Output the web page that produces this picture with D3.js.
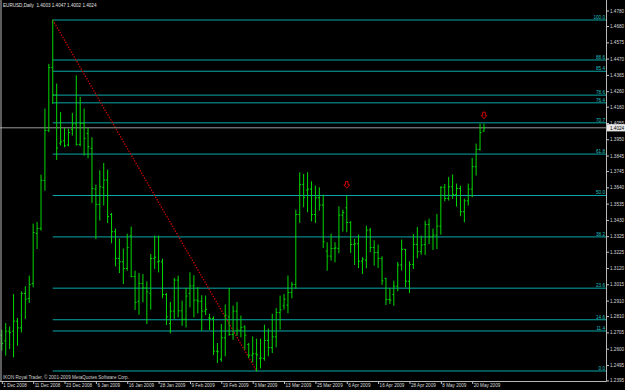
<!DOCTYPE html>
<html>
<head>
<meta charset="utf-8">
<script src="https://cdn.jsdelivr.net/npm/d3@7"></script>
<style>
html, body { margin: 0; padding: 0; background: #000; }
svg { display: block; }
</style>
</head>
<body>
<div id="chart"></div>
<script>
// daily bars, 1 Dec 2008 .. 25 May 2009
const dates = [
	"1 Dec 2008","2 Dec 2008","3 Dec 2008","4 Dec 2008","5 Dec 2008","8 Dec 2008","9 Dec 2008","10 Dec 2008","11 Dec 2008","12 Dec 2008",
	"15 Dec 2008","16 Dec 2008","17 Dec 2008","18 Dec 2008","19 Dec 2008","22 Dec 2008","23 Dec 2008","24 Dec 2008","26 Dec 2008","29 Dec 2008",
	"30 Dec 2008","31 Dec 2008","2 Jan 2009","5 Jan 2009","6 Jan 2009","7 Jan 2009","8 Jan 2009","9 Jan 2009","12 Jan 2009","13 Jan 2009",
	"14 Jan 2009","15 Jan 2009","16 Jan 2009","19 Jan 2009","20 Jan 2009","21 Jan 2009","22 Jan 2009","23 Jan 2009","26 Jan 2009","27 Jan 2009",
	"28 Jan 2009","29 Jan 2009","30 Jan 2009","2 Feb 2009","3 Feb 2009","4 Feb 2009","5 Feb 2009","6 Feb 2009","9 Feb 2009","10 Feb 2009",
	"11 Feb 2009","12 Feb 2009","13 Feb 2009","16 Feb 2009","17 Feb 2009","18 Feb 2009","19 Feb 2009","20 Feb 2009","23 Feb 2009","24 Feb 2009",
	"25 Feb 2009","26 Feb 2009","27 Feb 2009","2 Mar 2009","3 Mar 2009","4 Mar 2009","5 Mar 2009","6 Mar 2009","9 Mar 2009","10 Mar 2009",
	"11 Mar 2009","12 Mar 2009","13 Mar 2009","16 Mar 2009","17 Mar 2009","18 Mar 2009","19 Mar 2009","20 Mar 2009","23 Mar 2009","24 Mar 2009",
	"25 Mar 2009","26 Mar 2009","27 Mar 2009","30 Mar 2009","31 Mar 2009","1 Apr 2009","2 Apr 2009","3 Apr 2009","6 Apr 2009","7 Apr 2009",
	"8 Apr 2009","9 Apr 2009","10 Apr 2009","13 Apr 2009","14 Apr 2009","15 Apr 2009","16 Apr 2009","17 Apr 2009","20 Apr 2009","21 Apr 2009",
	"22 Apr 2009","23 Apr 2009","24 Apr 2009","27 Apr 2009","28 Apr 2009","29 Apr 2009","30 Apr 2009","1 May 2009","4 May 2009","5 May 2009",
	"6 May 2009","7 May 2009","8 May 2009","11 May 2009","12 May 2009","13 May 2009","14 May 2009","15 May 2009","18 May 2009","19 May 2009",
	"20 May 2009","21 May 2009","22 May 2009","25 May 2009"
];

const open = [
	1.2687,1.2650,1.2713,1.2713,1.2777,1.2734,1.2956,1.2923,1.3020,1.3343,
	1.3375,1.3685,1.4007,1.4413,1.4235,1.3925,1.3940,1.3913,1.4014,1.4050,
	1.3917,1.4052,1.3988,1.3891,1.3629,1.3530,1.3640,1.3687,1.3465,1.3354,
	1.3182,1.3160,1.3117,1.3328,1.3065,1.2906,1.3020,1.2992,1.2956,1.3182,
	1.3160,1.3160,1.2949,1.2762,1.2842,1.3042,1.2844,1.2790,1.2956,1.3005,
	1.2913,1.2906,1.2842,1.2799,1.2795,1.2584,1.2532,1.2670,1.2805,1.2691,
	1.2842,1.2719,1.2741,1.2627,1.2558,1.2567,1.2537,1.2537,1.2653,1.2607,
	1.2676,1.2833,1.2876,1.2881,1.2962,1.3014,1.3465,1.3659,1.3622,1.3629,
	1.3465,1.3573,1.3526,1.3229,1.3197,1.3246,1.3246,1.3461,1.3508,1.3414,
	1.3272,1.3276,1.3164,1.3171,1.3364,1.3252,1.3220,1.3182,1.3053,1.2917,
	1.2949,1.3003,1.3139,1.3240,1.3035,1.3143,1.3272,1.3225,1.3272,1.3401,
	1.3321,1.3332,1.3390,1.3640,1.3569,1.3644,1.3594,1.3633,1.3483,1.3553,
	1.3629,1.3773,1.3885,1.4003
];
const high = [
	1.2719,1.2762,1.2740,1.2948,1.2795,1.2966,1.2999,1.3068,1.3403,1.3414,
	1.3719,1.4145,1.4433,1.4719,1.4306,1.4123,1.4020,1.4016,1.4117,1.4359,
	1.4220,1.4145,1.4020,1.3960,1.3654,1.3747,1.3794,1.3751,1.3472,1.3371,
	1.3306,1.3242,1.3338,1.3384,1.3100,1.3085,1.3078,1.3031,1.3207,1.3326,
	1.3326,1.3177,1.2956,1.2898,1.3053,1.3068,1.2906,1.2988,1.3089,1.3070,
	1.2994,1.2941,1.2939,1.2822,1.2805,1.2633,1.2756,1.2881,1.2988,1.2874,
	1.2898,1.2810,1.2747,1.2633,1.2676,1.2661,1.2661,1.2751,1.2726,1.2822,
	1.2859,1.2939,1.2949,1.3068,1.3027,1.3493,1.3734,1.3723,1.3734,1.3676,
	1.3648,1.3637,1.3590,1.3283,1.3338,1.3283,1.3515,1.3493,1.3584,1.3418,
	1.3306,1.3332,1.3186,1.3390,1.3375,1.3295,1.3268,1.3192,1.3053,1.2988,
	1.3035,1.3156,1.3300,1.3240,1.3160,1.3336,1.3381,1.3326,1.3422,1.3435,
	1.3371,1.3465,1.3644,1.3659,1.3704,1.3719,1.3661,1.3648,1.3564,1.3661,
	1.3827,1.3919,1.4048,1.4047
];
const low = [
	1.2590,1.2558,1.2601,1.2547,1.2622,1.2708,1.2795,1.2898,1.2999,1.3246,
	1.3364,1.3622,1.3999,1.4181,1.3820,1.3913,1.3902,1.3908,1.3977,1.3913,
	1.3908,1.3848,1.3831,1.3543,1.3310,1.3429,1.3526,1.3412,1.3283,1.3134,
	1.3091,1.3020,1.3106,1.3063,1.2853,1.2822,1.2902,1.2762,1.2855,1.3117,
	1.3095,1.2928,1.2756,1.2702,1.2795,1.2805,1.2751,1.2740,1.2870,1.2805,
	1.2831,1.2719,1.2820,1.2724,1.2562,1.2511,1.2519,1.2554,1.2687,1.2661,
	1.2687,1.2676,1.2597,1.2541,1.2515,1.2456,1.2476,1.2526,1.2554,1.2575,
	1.2612,1.2726,1.2855,1.2831,1.2928,1.2988,1.3414,1.3515,1.3483,1.3424,
	1.3414,1.3493,1.3252,1.3106,1.3171,1.3160,1.3218,1.3358,1.3354,1.3220,
	1.3143,1.3123,1.3085,1.3121,1.3225,1.3139,1.3123,1.3014,1.2885,1.2891,
	1.2880,1.2973,1.3106,1.2999,1.2962,1.3117,1.3186,1.3209,1.3207,1.3278,
	1.3240,1.3246,1.3338,1.3553,1.3558,1.3569,1.3519,1.3457,1.3418,1.3526,
	1.3579,1.3719,1.3880,1.4002
];
const close = [
	1.2633,1.2713,1.2705,1.2777,1.2734,1.2956,1.2919,1.3014,1.3349,1.3375,
	1.3685,1.4007,1.4413,1.4235,1.3894,1.3934,1.3908,1.3994,1.4048,1.3917,
	1.4052,1.3956,1.3902,1.3633,1.3530,1.3644,1.3687,1.3452,1.3354,1.3182,
	1.3160,1.3117,1.3252,1.3065,1.2898,1.3020,1.2992,1.2966,1.3182,1.3190,
	1.3165,1.2949,1.2805,1.2842,1.3042,1.2844,1.2790,1.2939,1.3005,1.2913,
	1.2906,1.2842,1.2853,1.2795,1.2584,1.2580,1.2670,1.2816,1.2691,1.2842,
	1.2719,1.2736,1.2687,1.2558,1.2567,1.2560,1.2540,1.2653,1.2607,1.2676,
	1.2833,1.2850,1.2919,1.2962,1.3014,1.3465,1.3659,1.3575,1.3629,1.3465,
	1.3573,1.3526,1.3289,1.3197,1.3246,1.3250,1.3461,1.3478,1.3414,1.3272,
	1.3276,1.3164,1.3177,1.3364,1.3252,1.3220,1.3182,1.3037,1.2917,1.2913,
	1.3003,1.3139,1.3240,1.3035,1.3143,1.3272,1.3225,1.3268,1.3401,1.3321,
	1.3332,1.3390,1.3640,1.3569,1.3644,1.3594,1.3633,1.3483,1.3553,1.3629,
	1.3773,1.3885,1.3994,1.4024
];

const priceTicks = [1.4780,1.4680,1.4575,1.4470,1.4365,1.4260,1.4160,1.4055,1.3950,1.3845,1.3745,1.3640,
	1.3535,1.3430,1.3325,1.3225,1.3120,1.3015,1.2910,1.2810,1.2705,1.2600,1.2495,1.2395];
const dateTicks = ["1 Dec 2008","11 Dec 2008","23 Dec 2008","6 Jan 2009","16 Jan 2009","28 Jan 2009","9 Feb 2009",
	"19 Feb 2009","3 Mar 2009","13 Mar 2009","25 Mar 2009","6 Apr 2009","16 Apr 2009","28 Apr 2009","8 May 2009","20 May 2009"];

// fibonacci retracement, 18 Dec high -> 4 Mar low
const fibLevels = [0.0, 11.4, 14.6, 23.6, 38.2, 50.0, 61.8, 70.7, 76.4, 78.6, 85.4, 88.6, 100.0];
const fibHigh = 1.4719, fibLow = 1.2456;
const fibFrom = "18 Dec 2008", fibTo = "4 Mar 2009";

const arrowDates = ["6 Apr 2009", "25 May 2009"];
const arrowPrices = [1.3655, 1.4103];

const lastPrice = 1.4024;
const title = "EURUSD,Daily  1.4003 1.4047 1.4002 1.4024";
const copyright = "IKON Royal Trader, \u00a9 2001-2009 MetaQuotes Software Corp.";


const width = 625, height = 390;
const plotRight = 606, plotBottom = 381;
const font = '"Liberation Sans", Arial, sans-serif';

let svg = d3.select('#chart').append('svg')
	.attr('width', width)
	.attr('height', height)
	.style('font-family', font);

svg.append('rect')
	.attr('width', width)
	.attr('height', height)
	.attr('fill', '#000');

//Scales
let x = d3.scaleLinear()
	.domain([0, dates.length - 1])
	.range([1.8, 1.8 + 3.92 * (dates.length - 1)]);
let y = d3.scaleLinear()
	.domain([fibLow, fibHigh])
	.range([371, 20]);

//Fibonacci levels
let fibGroup = svg.append('g').attr('class', 'fib');
let fx0 = x(dates.indexOf(fibFrom));
fibGroup.selectAll('line')
	.data(fibLevels)
	.enter().append('line')
	.attr('x1', fx0)
	.attr('x2', plotRight)
	.attr('y1', d => y(fibLow + (fibHigh - fibLow) * d / 100))
	.attr('y2', d => y(fibLow + (fibHigh - fibLow) * d / 100))
	.attr('stroke', '#0aa8a8')
	.attr('stroke-width', 1);
fibGroup.selectAll('text')
	.data(fibLevels)
	.enter().append('text')
	.attr('x', plotRight - 1)
	.attr('y', d => y(fibLow + (fibHigh - fibLow) * d / 100) - 1.2)
	.attr('text-anchor', 'end')
	.attr('font-size', 4.6)
	.attr('fill', '#20c0c0')
	.text(d => d.toFixed(1));

//Trend line of the retracement
svg.append('line')
	.attr('x1', fx0)
	.attr('y1', y(fibHigh))
	.attr('x2', x(dates.indexOf(fibTo)))
	.attr('y2', y(fibLow))
	.attr('stroke', '#c80000')
	.attr('stroke-width', 1.3)
	.attr('stroke-dasharray', '1.4 1.4');

//Current price line
svg.append('line')
	.attr('x1', 0)
	.attr('x2', plotRight)
	.attr('y1', y(lastPrice))
	.attr('y2', y(lastPrice))
	.attr('stroke', '#9a9a9a')
	.attr('stroke-width', 1);

//Bars
let barGroup = svg.append('g').attr('class', 'bars')
	.attr('stroke', '#00d800')
	.attr('stroke-width', 1);
let bars = barGroup.selectAll('g')
	.data(d3.range(dates.length))
	.enter().append('g');
bars.append('line')
	.attr('x1', i => x(i)).attr('x2', i => x(i))
	.attr('y1', i => y(high[i]) - 0.5).attr('y2', i => y(low[i]) + 0.5);
bars.append('line')
	.attr('x1', i => x(i) - 1.4).attr('x2', i => x(i))
	.attr('y1', i => y(open[i])).attr('y2', i => y(open[i]));
bars.append('line')
	.attr('x1', i => x(i)).attr('x2', i => x(i) + 1.4)
	.attr('y1', i => y(close[i])).attr('y2', i => y(close[i]));

//Arrows (hollow, pointing down)
svg.append('g').selectAll('path')
	.data(arrowDates)
	.enter().append('path')
	.attr('transform', (d, k) => `translate(${x(dates.indexOf(d))},${y(arrowPrices[k])})`)
	.attr('d', 'M-1.3,-3.4 H1.3 V-0.2 H2.9 L0,3.2 L-2.9,-0.2 H-1.3 Z')
	.attr('fill', 'none')
	.attr('stroke', '#d00000')
	.attr('stroke-width', 1);

//Frame
let frame = svg.append('g').attr('stroke', '#b8b8b8').attr('stroke-width', 1);
frame.append('line').attr('x1', 1).attr('x2', 1).attr('y1', 0).attr('y2', plotBottom);
frame.append('line').attr('x1', plotRight + 0.5).attr('x2', plotRight + 0.5).attr('y1', 0).attr('y2', plotBottom + 0.5);
frame.append('line').attr('x1', 0).attr('x2', plotRight + 0.5).attr('y1', plotBottom + 0.5).attr('y2', plotBottom + 0.5);

//Axes
let axis_y = d3.axisRight(y)
	.tickValues(priceTicks)
	.tickFormat(d3.format('.4f'))
	.tickSize(2.5)
	.tickSizeOuter(0);
let gy = svg.append('g')
	.attr('transform', `translate(${plotRight + 0.5},0)`)
	.call(axis_y)
	.attr('font-size', 4.6)
	.attr('font-family', font);
gy.select('.domain').remove();
gy.selectAll('.tick line').attr('stroke', '#c8c8c8');
gy.selectAll('.tick text').attr('fill', '#d8d8d8').attr('x', 3.5);

let axis_x = d3.axisBottom(x)
	.tickValues(dateTicks.map(d => dates.indexOf(d)))
	.tickFormat(i => dates[i])
	.tickSize(2.5)
	.tickSizeOuter(0);
let gx = svg.append('g')
	.attr('transform', `translate(0,${plotBottom + 0.5})`)
	.call(axis_x)
	.attr('font-size', 4.6)
	.attr('font-family', font);
gx.select('.domain').remove();
gx.selectAll('.tick line').attr('stroke', '#c8c8c8');
gx.selectAll('.tick text')
	.attr('fill', '#d8d8d8')
	.attr('text-anchor', 'start')
	.attr('x', 1)
	.attr('y', 2.2);

//Last price marker on the axis
let lp = svg.append('g').attr('transform', `translate(${plotRight + 1},${y(lastPrice)})`);
lp.append('rect')
	.attr('x', 0).attr('y', -3.6)
	.attr('width', 18.5).attr('height', 7.2)
	.attr('fill', '#e6e6e6');
lp.append('text')
	.attr('x', 3).attr('y', 1.7)
	.attr('font-size', 4.6)
	.attr('fill', '#000')
	.text(d3.format('.4f')(lastPrice));

//Texts
svg.append('text')
	.attr('x', 3).attr('y', 7.3)
	.attr('font-size', 4.6)
	.attr('fill', '#e0e0e0')
	.style('white-space', 'pre')
	.text(title);
svg.append('text')
	.attr('x', 3).attr('y', 378.6)
	.attr('font-size', 4.6)
	.attr('fill', '#d0d0d0')
	.text(copyright);
</script>
</body>
</html>
